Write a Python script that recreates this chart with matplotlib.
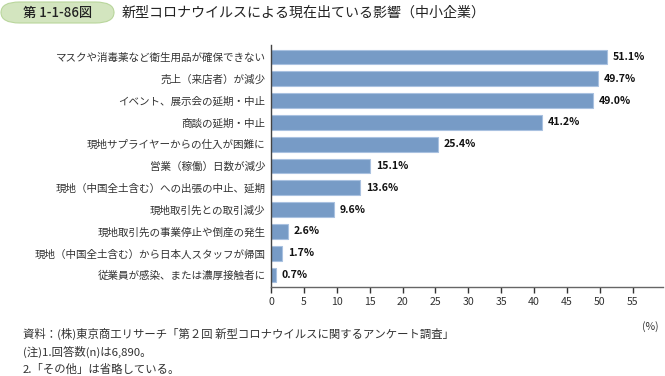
import matplotlib
matplotlib.use("Agg")
import matplotlib.pyplot as plt
from matplotlib.patches import FancyBboxPatch

plt.rcParams['font.family'] = ['Noto Sans CJK JP', 'DejaVu Sans']

categories = [
    "マスクや消毒薬など衛生用品が確保できない",
    "売上（来店者）が減少",
    "イベント、展示会の延期・中止",
    "商談の延期・中止",
    "現地サプライヤーからの仕入が困難に",
    "営業（稼働）日数が減少",
    "現地（中国全土含む）への出張の中止、延期",
    "現地取引先との取引減少",
    "現地取引先の事業停止や倒産の発生",
    "現地（中国全土含む）から日本人スタッフが帰国",
    "従業員が感染、または濃厚接触者に",
]
values = [51.1, 49.7, 49.0, 41.2, 25.4, 15.1, 13.6, 9.6, 2.6, 1.7, 0.7]
xticks = [0, 5, 10, 15, 20, 25, 30, 35, 40, 45, 50, 55]

fig = plt.figure(figsize=(6.65, 3.76), dpi=100)
ax = fig.add_axes([271/665, 89/376, 392/665, 242/376])

ypos = list(range(len(categories)))
ax.barh(ypos, values, height=0.68, color="#779BC6", edgecolor="#A9C1E0", linewidth=0.8)
ax.set_ylim(len(categories) - 0.45, -0.55)
ax.set_xlim(0, 59.6)
ax.set_yticks(ypos)
ax.set_yticklabels(categories, fontsize=7.6, color="#333333")
ax.set_xticks(xticks)
ax.set_xticklabels([str(t) for t in xticks], fontsize=7.6, color="#333333")
ax.tick_params(axis='y', length=0, pad=4)
ax.tick_params(axis='x', length=4, direction='out', color="#333333", width=1)
for s in ['top', 'right']:
    ax.spines[s].set_visible(False)
ax.spines['left'].set_color("#444444")
ax.spines['bottom'].set_color("#666666")
ax.spines['left'].set_linewidth(1.0)
ax.spines['bottom'].set_linewidth(1.0)

for y, v in zip(ypos, values):
    ax.text(v + 0.9, y, f"{v:.1f}%", va='center', ha='left', fontsize=7.6,
            fontweight='bold', color="#111111")

# title box
box = FancyBboxPatch((1/665, 1 - 23/376), 113/665, 21/376,
                     boxstyle="round,pad=0,rounding_size=0.028",
                     transform=fig.transFigure, facecolor="#D3E5BF",
                     edgecolor="#B9D69C", linewidth=0.8)
fig.patches.append(box)
fig.text(58/665, 1 - 12.5/376, "第 1-1-86図", ha='center', va='center',
         fontsize=9.5, fontweight='medium', color="#222222")
fig.text(122/665, 1 - 12.5/376, "新型コロナウイルスによる現在出ている影響（中小企業）",
         ha='left', va='center', fontsize=10.1, color="#222222")

fig.text(650/665, 1 - 327/376, "(%)", ha='center', va='center', fontsize=7.6, color="#333333")
fig.text(23/665, 1 - 334/376, "資料：(株)東京商工リサーチ「第２回 新型コロナウイルスに関するアンケート調査」",
         ha='left', va='center', fontsize=8.2, color="#333333")
fig.text(23/665, 1 - 352/376, "(注)1.回答数(n)は6,890。",
         ha='left', va='center', fontsize=8.2, color="#333333")
fig.text(23/665, 1 - 369/376, "2.「その他」は省略している。",
         ha='left', va='center', fontsize=8.2, color="#333333")

fig.savefig("out.png", dpi=100)
